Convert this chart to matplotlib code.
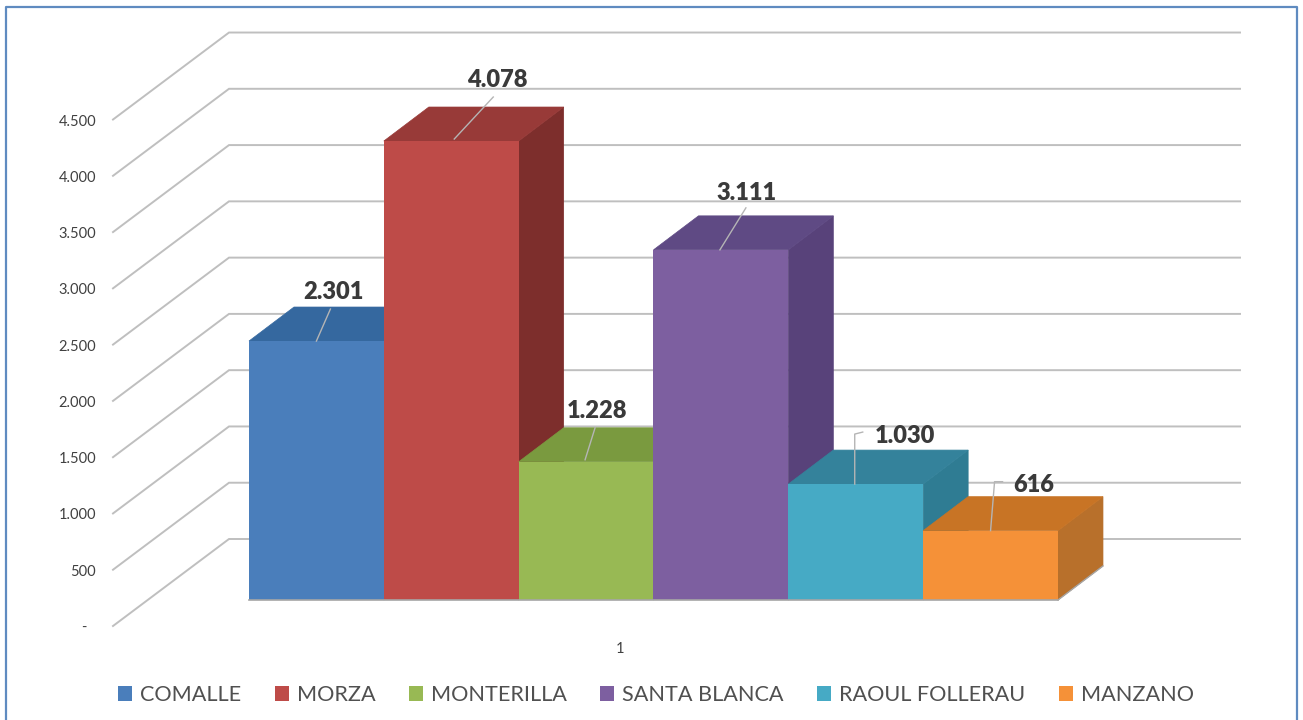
#!/usr/bin/env python
import matplotlib
matplotlib.use('Agg')
import matplotlib.pyplot as plt
from matplotlib.patches import Patch, Polygon

names = ['COMALLE', 'MORZA', 'MONTERILLA', 'SANTA BLANCA', 'RAOUL FOLLERAU', 'MANZANO']
values = [2301, 4078, 1228, 3111, 1030, 616]
value_labels = ['2.301', '4.078', '1.228', '3.111', '1.030', '616']
grid_values = [0, 500, 1000, 1500, 2000, 2500, 3000, 3500, 4000, 4500]
grid_labels = ['-', '500', '1.000', '1.500', '2.000', '2.500', '3.000', '3.500', '4.000', '4.500']

front_colors = ['#4a7ebb', '#be4b48', '#98b954', '#7d5fa0', '#46aac5', '#f59138']
top_colors = ['#35689f', '#983a38', '#7a9a3f', '#5f4a84', '#34829b', '#c87425']
side_colors = ['#2f5d8f', '#7d2e2c', '#667f34', '#58427a', '#2f7c93', '#b8702b']

plt.rcParams['font.family'] = ['Lato', 'DejaVu Sans']

px = 0.11255  # pixels per unit on the value axis
bar_x0 = 249
bar_w = 134.83
depth_x = 45
depth_y = 34 / px
wall_x0, wall_x1, wall_x2 = 113, 229, 1240
wall_front = -26 / px
wall_back = 61 / px
grid_color = '#bfbfbf'

fig = plt.figure(figsize=(13.03, 7.2), dpi=100)
ax = fig.add_axes([0, 0, 1, 1])
ax.set_xlim(0, 1303)
ax.set_ylim(-120 / px, 600 / px)
ax.axis('off')

# side wall and back wall grid
for v, label in zip(grid_values, grid_labels):
    ax.plot([wall_x0, wall_x1, wall_x2], [v + wall_front, v + wall_back, v + wall_back],
            color=grid_color, lw=1.4, zorder=1, solid_joinstyle='miter')
    # the dash of the zero label sits further left, as in accounting format
    tick_x = 87 if label == '-' else 96
    ax.text(tick_x, v + wall_front - 2 / px, label, ha='right', va='center', fontsize=10.5,
            color='#404040')

# bars, left to right so each one hides part of the previous one
for i, v in enumerate(values):
    x = bar_x0 + i * bar_w
    z = 2 + i
    ax.bar(x, v, bar_w, align='edge', color=front_colors[i], zorder=z + 0.2,
           edgecolor='none')
    ax.add_patch(Polygon([(x + bar_w, 0), (x + bar_w + depth_x, depth_y),
                          (x + bar_w + depth_x, v + depth_y), (x + bar_w, v)],
                         facecolor=side_colors[i], edgecolor=side_colors[i], lw=0.5, zorder=z))
    ax.add_patch(Polygon([(x, v), (x + bar_w, v), (x + bar_w + depth_x, v + depth_y),
                          (x + depth_x, v + depth_y)],
                         facecolor=top_colors[i], edgecolor=top_colors[i], lw=0.5, zorder=z + 0.1))

ax.plot([bar_x0, bar_x0 + 6 * bar_w], [0, 0], color='#a6a6a6', lw=1.2, zorder=9)
ax.plot([bar_x0 + 6 * bar_w, bar_x0 + 6 * bar_w + depth_x], [0, depth_y],
        color='#a6a6a6', lw=1, zorder=9)

# data labels with their leader lines, offsets in pixels from the bar top
leaders = [[(0, 0), (14, 32)], [(3, 2), (42, 44)], [(-1, 2), (9, 34)],
           [(-1, 0), (25, 42)], [(-1, 0), (-1, 50), (7, 52)], [(0, 0), (4, 49), (12, 49)]]
label_pos = [(17.5, 49), (46, 61), (11, 51), (26, 57), (49, 48), (43, 46)]
for i, v in enumerate(values):
    cx = bar_x0 + (i + 0.5) * bar_w
    ax.plot([cx + dx for dx, dy in leaders[i]], [v + dy / px for dx, dy in leaders[i]],
            color='#b5b5b5', lw=1, zorder=20)
    ax.text(cx + label_pos[i][0], v + label_pos[i][1] / px, value_labels[i], ha='center',
            va='center', fontsize=17, fontweight='heavy', color='#3a3a3a', zorder=21)

ax.text(620, -49 / px, '1', ha='center', va='center', fontsize=10.5, color='#404040')

handles = [Patch(facecolor=c, edgecolor='none', label=n) for c, n in zip(front_colors, names)]
ax.legend(handles=handles, ncol=6, frameon=False, loc='center', fontsize=15.55,
          bbox_to_anchor=(656 / 1303, 25 / 720), handlelength=0.65, handleheight=0.65,
          handletextpad=0.37, columnspacing=1.55, labelcolor='#505050')

# chart border, open at the bottom edge of the picture
ax.plot([6, 6, 1297, 1297], [-120 / px, 593 / px, 593 / px, -120 / px],
        color='#5f8bc0', lw=1.6, zorder=30, clip_on=False)

plt.savefig('out.png', dpi=100)
